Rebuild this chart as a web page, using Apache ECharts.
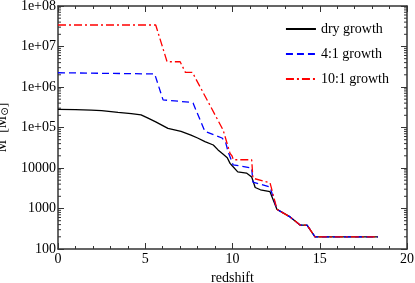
<!DOCTYPE html>
<html><head><meta charset="utf-8">
<script src="https://cdn.jsdelivr.net/npm/echarts@6/dist/echarts.min.js"></script>
<style>html,body{margin:0;padding:0;background:#fff}#c{width:415px;height:283px}</style>
</head><body><div id="c"></div>
<script>
var seriesNames = ['dry growth', '4:1 growth', '10:1 growth'];
var tail = [[12.55, 950], [13.3, 620], [13.87, 390], [14.27, 390], [14.73, 200], [18.34, 200]];
var dryGrowth = [[0, 2.8e5], [1, 2.76e5], [1.9, 2.7e5], [2.5, 2.6e5], [3.44, 2.35e5], [4.2, 2.2e5], [4.76, 2.05e5],
  [5.16, 1.7e5], [5.6, 1.38e5], [6.3, 9.5e4], [7.05, 8e4], [7.62, 6.5e4], [8.0, 5.5e4], [8.42, 4.5e4], [8.9, 3.7e4],
  [9.17, 2.8e4], [9.4, 2.3e4], [9.7, 1.8e4], [9.86, 1.3e4], [9.97, 1.15e4], [10.3, 8e3], [10.8, 7.5e3], [11.1, 6e3],
  [11.3, 3.3e3], [11.6, 2.9e3], [12.15, 2.6e3]].concat(tail);
var growth41 = [[0, 2.25e6], [5.54, 2.1e6], [6.02, 4.8e5], [7.56, 4.2e5], [7.74, 4e5], [8.42, 8e4], [9.4, 5.5e4],
  [9.6, 4.4e4], [9.75, 2.5e4], [10.03, 1.2e4], [11.1, 1e4], [11.17, 4.5e3], [12.15, 3.4e3]].concat(tail);
var growth101 = [[0, 3.4e7], [5.6, 3.4e7], [6.25, 4.2e6], [7.0, 4.2e6], [7.3, 2.3e6], [7.7, 2.3e6], [9.46, 8.7e4],
  [9.86, 2.3e4], [9.97, 2e4], [10.05, 1.6e4], [11.1, 1.6e4], [11.17, 5.6e3], [12.15, 4.3e3]].concat(tail);
var xTicks = [0, 5, 10, 15, 20];
var yTicks = [100, 1000, 10000, 1e5, 1e6, 1e7, 1e8];
var yMinor = [];
for (var d = 2; d < 8; d++) { for (var k = 2; k <= 9; k++) { yMinor.push([0, k * Math.pow(10, d)]); } }

function yLabel(v) {
  if (v >= 1e5) { var e = Math.round(Math.log10(v)); return '1e+' + (e < 10 ? '0' + e : e); }
  return String(Math.round(v));
}
var font = 'Liberation Serif';
var axisColor = '#333';
var chart = echarts.init(document.getElementById('c'), null, {renderer: 'canvas'});
var xBase = {type: 'value', min: xTicks[0], max: xTicks[xTicks.length - 1], interval: 5,
  axisLine: {show: true, onZero: false, lineStyle: {color: axisColor, width: 1.5}},
  axisTick: {show: true, inside: true, length: 6, lineStyle: {color: axisColor}},
  minorTick: {show: true, splitNumber: 5, length: 3, lineStyle: {color: axisColor}},
  splitLine: {show: false}};
var yBase = {type: 'log', logBase: 10, min: 100, max: 1e8,
  axisLine: {show: true, onZero: false, lineStyle: {color: axisColor, width: 1.5}},
  axisTick: {show: true, inside: true, length: 6, lineStyle: {color: axisColor}},
  minorTick: {show: false}, splitLine: {show: false}};
var option = {
  animation: false,
  backgroundColor: '#fff',
  grid: {left: 58, right: 8, top: 6, bottom: 34, containLabel: false, outerBoundsMode: 'none'},
  xAxis: [
    Object.assign({}, xBase, {position: 'bottom', name: 'redshift', nameLocation: 'middle', nameGap: 22,
      nameTextStyle: {fontFamily: font, fontSize: 14, color: '#000'},
      axisLabel: {fontFamily: font, fontSize: 14, color: '#000', margin: 3}}),
    Object.assign({}, xBase, {position: 'top', axisLabel: {show: false}})
  ],
  yAxis: [
    Object.assign({}, yBase, {position: 'left', name: 'M  [M{s|⊙}]', nameLocation: 'middle', nameGap: 41,
      nameTextStyle: {fontFamily: font, fontSize: 14, color: '#000', rich: {s: {fontFamily: 'DejaVu Sans', fontSize: 10, verticalAlign: 'bottom', padding: [6, 0, 0, 0]}}},
      axisLabel: {fontFamily: font, fontSize: 14, color: '#000', margin: 2, formatter: yLabel}}),
    Object.assign({}, yBase, {position: 'right', axisLabel: {show: false}})
  ],
  legend: {
    data: seriesNames, orient: 'vertical', right: 21, top: 17, itemWidth: 30, itemHeight: 10, itemGap: 11,
    itemStyle: {opacity: 0},
    textStyle: {fontFamily: font, fontSize: 14, color: '#000'}, backgroundColor: 'transparent'
  },
  series: [
    {name: seriesNames[0], type: 'line', data: dryGrowth, symbol: 'none', lineStyle: {color: '#000', width: 1.3}, itemStyle: {color: '#000'}},
    {name: seriesNames[1], type: 'line', data: growth41, symbol: 'none', lineStyle: {color: '#0000ff', width: 1.3, type: [7, 4]}, itemStyle: {color: '#0000ff'}},
    {name: seriesNames[2], type: 'line', data: growth101, symbol: 'none', lineStyle: {color: '#ff0000', width: 1.3, type: [8, 3, 2, 3]}, itemStyle: {color: '#ff0000'}},
    {type: 'custom', data: yMinor, silent: true, encode: {x: 0, y: 1},
      renderItem: function (params, api) {
        var v = api.value(1);
        var a = api.coord([xTicks[0], v]);
        var b = api.coord([xTicks[xTicks.length - 1], v]);
        return {type: 'group', children: [
          {type: 'line', shape: {x1: a[0], y1: a[1], x2: a[0] + 3, y2: a[1]}, style: {stroke: axisColor, lineWidth: 1}},
          {type: 'line', shape: {x1: b[0], y1: b[1], x2: b[0] - 3, y2: b[1]}, style: {stroke: axisColor, lineWidth: 1}}
        ]};
      }}
  ]
};
chart.setOption(option);
</script></body></html>
